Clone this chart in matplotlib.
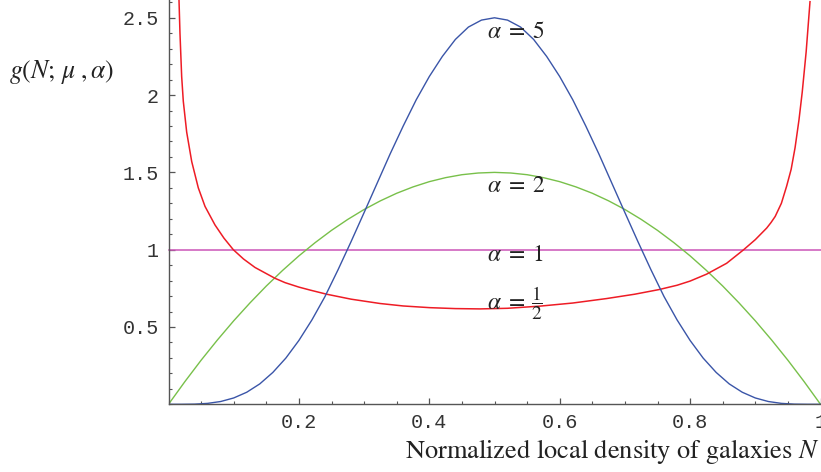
import matplotlib
matplotlib.use("Agg")
import matplotlib.pyplot as plt
from matplotlib.ticker import MultipleLocator, FixedLocator

plt.rcParams['mathtext.fontset'] = 'stix'

# ---- data ----
x_a5 = [0.0, 0.02, 0.04, 0.06, 0.08, 0.10, 0.12, 0.14, 0.16, 0.18, 0.20, 0.22, 0.24,
        0.26, 0.28, 0.30, 0.32, 0.34, 0.36, 0.38, 0.40, 0.42, 0.44, 0.46, 0.48, 0.50,
        0.52, 0.54, 0.56, 0.58, 0.60, 0.62, 0.64, 0.66, 0.68, 0.70, 0.72, 0.74, 0.76,
        0.78, 0.80, 0.82, 0.84, 0.86, 0.88, 0.90, 0.92, 0.94, 0.96, 0.98, 1.0]
y_a5 = [0.0, 0.0, 0.001, 0.006, 0.018, 0.041, 0.078, 0.132, 0.206, 0.299, 0.413, 0.546, 0.697,
        0.870, 1.052, 1.240, 1.430, 1.620, 1.800, 1.970, 2.120, 2.250, 2.360, 2.440, 2.485, 2.500,
        2.485, 2.440, 2.360, 2.250, 2.120, 1.970, 1.800, 1.620, 1.430, 1.240, 1.052, 0.870, 0.697,
        0.546, 0.413, 0.299, 0.206, 0.132, 0.078, 0.041, 0.018, 0.006, 0.001, 0.0, 0.0]

x_a2 = [0.0, 0.025, 0.05, 0.075, 0.1, 0.125, 0.15, 0.175, 0.2, 0.225, 0.25, 0.275, 0.3,
        0.325, 0.35, 0.375, 0.4, 0.425, 0.45, 0.475, 0.5, 0.525, 0.55, 0.575, 0.6, 0.625,
        0.65, 0.675, 0.7, 0.725, 0.75, 0.775, 0.8, 0.825, 0.85, 0.875, 0.9, 0.925, 0.95,
        0.975, 1.0]
y_a2 = [0.0, 0.146, 0.285, 0.416, 0.54, 0.656, 0.765, 0.866, 0.96, 1.046, 1.125, 1.196, 1.26,
        1.316, 1.365, 1.406, 1.44, 1.466, 1.485, 1.496, 1.5, 1.496, 1.485, 1.466, 1.44, 1.406,
        1.365, 1.316, 1.26, 1.196, 1.125, 1.046, 0.96, 0.866, 0.765, 0.656, 0.54, 0.416, 0.285,
        0.146, 0.0]

x_a1 = [0.0, 1.0]
y_a1 = [1.0, 1.0]

x_ah = [0.0161, 0.0176, 0.0202, 0.0227, 0.0279, 0.0356, 0.0457, 0.056, 0.0713, 0.085,
        0.0994, 0.115, 0.1327, 0.1633, 0.1787, 0.2, 0.217, 0.2426, 0.28, 0.3244, 0.36,
        0.401, 0.44, 0.4778, 0.52, 0.5698, 0.62, 0.672, 0.715, 0.7523, 0.78, 0.80, 0.8254,
        0.856, 0.8816, 0.90, 0.9175, 0.924, 0.9305, 0.94, 0.948, 0.955, 0.961, 0.967,
        0.972, 0.978, 0.9839]
y_ah = [2.615, 2.40, 2.12, 1.96, 1.76, 1.57, 1.40, 1.28, 1.16, 1.075,
        1.0, 0.94, 0.885, 0.815, 0.787, 0.758, 0.739, 0.712, 0.68, 0.652, 0.636,
        0.625, 0.619, 0.617, 0.621, 0.635, 0.655, 0.684, 0.712, 0.742, 0.77, 0.797, 0.842,
        0.912, 0.998, 1.065, 1.14, 1.175, 1.215, 1.30, 1.41, 1.52, 1.66, 1.84,
        2.02, 2.28, 2.604]

x_ticks = [0.2, 0.4, 0.6, 0.8, 1.0]
x_ticklabels = ['0.2', '0.4', '0.6', '0.8', '1']
y_ticks = [0.5, 1.0, 1.5, 2.0, 2.5]
y_ticklabels = ['0.5', '1', '1.5', '2', '2.5']

labels = [r'$\alpha\;=\;5$', r'$\alpha\;=\;2$', r'$\alpha\;=\;1$', r'$\alpha\;=$']
label_suffix = ['', '', '', r'$\dfrac{1}{2}$']
label_x = [0.488, 0.488, 0.488, 0.488]
label_y = [2.415, 1.418, 0.973, 0.663]

# ---- figure ----
fig = plt.figure(figsize=(8.21, 4.72), dpi=100)
ax = fig.add_axes([168.5 / 821, 1 - 404.3 / 472, 652 / 821, 404.3 / 472])

c_blue = '#3a55a8'
c_green = '#78c04a'
c_red = '#ee1c25'
c_mag = '#cc55b8'

ax.plot(x_a1, y_a1, color=c_mag, lw=1.1, clip_on=False)
ax.plot(x_a2, y_a2, color=c_green, lw=1.0)
ax.plot(x_ah, y_ah, color=c_red, lw=1.1)
ax.plot(x_a5, y_a5, color=c_blue, lw=1.0)

ax.set_xlim(0, 1)
ax.set_ylim(0, 2.615)

for s in ['top', 'right']:
    ax.spines[s].set_visible(False)
for s in ['left', 'bottom']:
    ax.spines[s].set_color('#555555')
    ax.spines[s].set_linewidth(1.0)

ax.xaxis.set_major_locator(FixedLocator(x_ticks))
ax.set_xticklabels(x_ticklabels)
ax.yaxis.set_major_locator(FixedLocator(y_ticks))
ax.set_yticklabels(y_ticklabels)
ax.xaxis.set_minor_locator(MultipleLocator(0.05))
ax.yaxis.set_minor_locator(MultipleLocator(0.1))
ax.tick_params(which='major', direction='in', length=4, width=0.9, color='#555555')
ax.tick_params(which='minor', direction='in', length=2.2, width=0.8, color='#555555')
ax.tick_params(axis='y', which='major', pad=7)
ax.tick_params(axis='x', which='major', pad=6)
for lab in ax.get_xticklabels() + ax.get_yticklabels():
    lab.set_fontfamily('Liberation Mono')
    lab.set_fontsize(14.5)
    lab.set_color('#333333')

for t, suf, lx, ly in zip(labels, label_suffix, label_x, label_y):
    txt = ax.text(lx, ly, t, ha='left', va='center', fontsize=17, color='#222222')
    if suf:
        ax.annotate(suf, xy=(1.0, 0.5), xycoords=txt, xytext=(4.5, -1),
                    textcoords='offset points', ha='left', va='center',
                    fontsize=14, color='#222222')

fig.text(62 / 821, 1 - 72 / 472, r'$g(N;\,\mu\;,\alpha)$', ha='center', va='center',
         fontsize=18.5, color='#222222')
fig.text(820 / 821, 1 - 452 / 472, 'Normalized local density of galaxies $N$',
         ha='right', va='center', fontsize=19, fontfamily='STIXGeneral', color='#222222')

fig.savefig('out.png', dpi=100)
